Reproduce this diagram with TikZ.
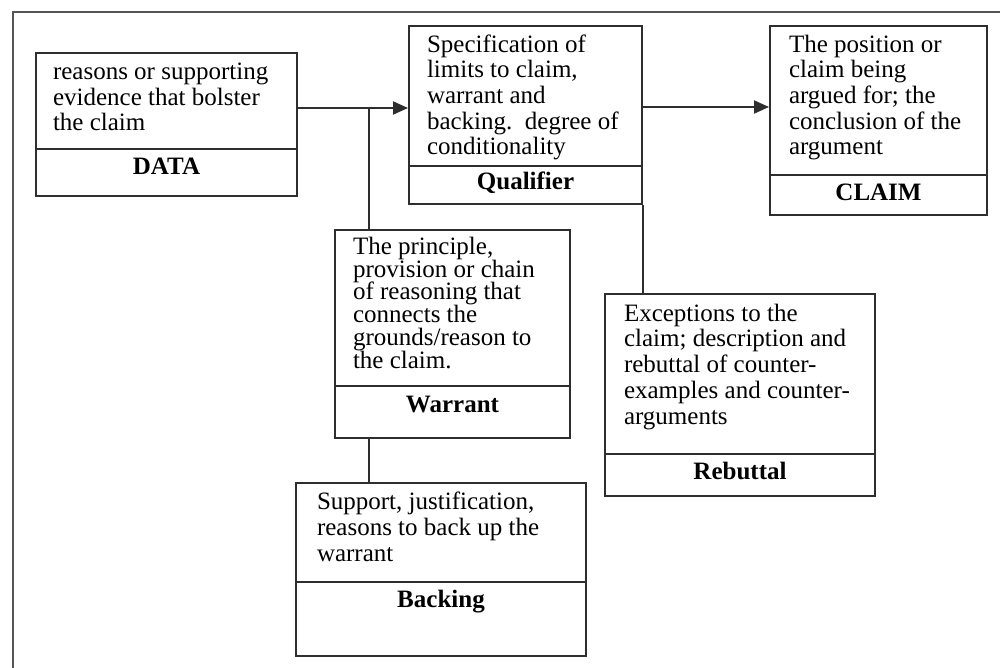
\documentclass[tikz,border=0pt]{standalone}
\usepackage{fontspec}
\setmainfont{Liberation Serif}
\usetikzlibrary{arrows.meta, positioning, fit}
\definecolor{cline}{HTML}{2E2E2E}
\definecolor{cframe}{HTML}{555555}
\tikzset{
  every picture/.style={line width=1pt},
  box/.style={draw=cline, inner sep=0pt},
  body/.style={anchor=base west, align=left, inner sep=0pt, font=\fontsize{12.5}{12.85}\selectfont},
  tag/.style={anchor=base, inner sep=0pt, font=\fontsize{12.5}{12.85}\selectfont\bfseries},
  arrow/.style={-{Triangle[length=7.5pt, width=6.5pt]}, draw=cline},
  link/.style={draw=cline},
}

\begin{document}
\begin{tikzpicture}[x=0.5pt, y=-0.5pt]
  \useasboundingbox (0,0) rectangle (1000,668);
  \draw[cframe] (13,668) -- (13,12) -- (1000,12);

  % the six boxes
  \node[box, fit={(36,53) (297,196)}] (data) {};
  \node[box, fit={(409,26) (642,204)}] (qual) {};
  \node[box, fit={(770,26) (987,215)}] (claim) {};
  \node[box, fit={(335,230) (570,438)}] (warrant) {};
  \node[box, fit={(605,294) (875,496)}] (rebut) {};
  \node[box, fit={(296,483) (586,656)}] (backing) {};

  \draw[link] ([yshift=24pt]data.south west) -- ([yshift=24pt]data.south east);
  \draw[link] ([yshift=19.5pt]qual.south west) -- ([yshift=19.5pt]qual.south east);
  \draw[link] ([yshift=20.5pt]claim.south west) -- ([yshift=20.5pt]claim.south east);
  \draw[link] ([yshift=26.5pt]warrant.south west) -- ([yshift=26.5pt]warrant.south east);
  \draw[link] ([yshift=21.5pt]rebut.south west) -- ([yshift=21.5pt]rebut.south east);
  \draw[link] ([yshift=37.5pt]backing.south west) -- ([yshift=37.5pt]backing.south east);

  % texts: the anchor is the baseline of the last line
  \node[body] (datatxt) at (52,131) {reasons or supporting\\evidence that bolster\\the claim};
  \node[tag] (datatag) at (166.5,175) {DATA};
  \node[body] (qualtxt) at (426,155) {Specification of\\limits to claim,\\warrant and\\backing.\ \ degree of\\conditionality};
  \node[tag] (qualtag) at (525.5,190) {Qualifier};
  \node[body] (claimtxt) at (788,155) {The position or\\claim being\\argued for; the\\conclusion of the\\argument};
  \node[tag] (claimtag) at (878.5,201) {CLAIM};
  \node[body, font={\fontsize{12.5}{11.35}\selectfont\lineskiplimit=-5pt}] (warranttxt) at (352,368) {The principle,\\provision or chain\\of reasoning that\\connects the\\grounds/reason to\\the claim.};
  \node[tag] (warranttag) at (452.5,412) {Warrant};
  \node[body] (rebuttxt) at (623,424) {Exceptions to the\\claim; description and\\rebuttal of counter-\\examples and counter-\\arguments};
  \node[tag] (rebuttag) at (740,479) {Rebuttal};
  \node[body] (backingtxt) at (316,561) {Support, justification,\\reasons to back up the\\warrant};
  \node[tag] (backingtag) at (441,607) {Backing};

  % connectors
  \coordinate (fork) at (369,108);
  \coordinate (bend) at (695,107);
  \draw[arrow] (data.east |- fork) -- (fork -| qual.west);
  \draw[link] (fork) -- (fork |- warrant.north);
  \draw[link] (fork |- warrant.south) -- (fork |- backing.north);
  \draw[arrow] (qual.east |- bend) -- (bend -| claim.west);
  \draw[link] (qual.south east) -- (qual.south east |- rebut.north);
\end{tikzpicture}
\end{document}
